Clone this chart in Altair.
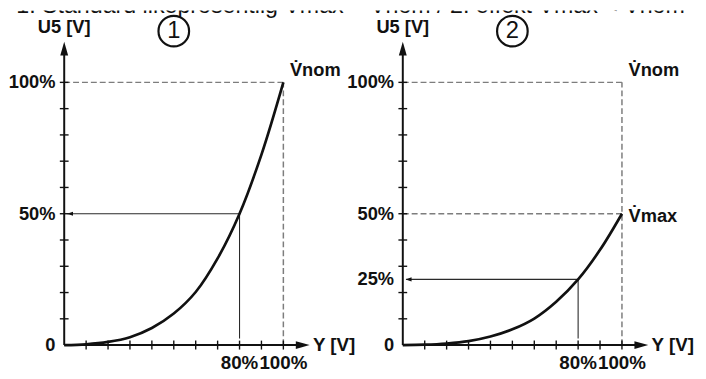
import altair as alt
import pandas as pd

# ---------------- data ----------------
x_pct = [0, 10, 20, 30, 40, 50, 60, 70, 80, 90, 100]
u5_standard = [0, 0.3, 1.2, 3.0, 6.5, 12.0, 20.2, 33.0, 50, 72.5, 100]
u5_effect = [0, 0.15, 0.6, 1.5, 3.25, 6.0, 10.1, 16.5, 25, 36.25, 50]
tick_vals = [10, 20, 30, 40, 50, 60, 70, 80, 90, 100]
x_label_vals = [80, 100]
x_label_text = ["80%", "100%"]
y_label_vals_1 = [0, 50, 100]
y_label_text_1 = ["0", "50%", "100%"]
y_label_vals_2 = [0, 25, 50, 100]
y_label_text_2 = ["0", "25%", "50%", "100%"]
work_x = 80
work_y_1 = 50
work_y_2 = 25
nom_level = 100
max_level_2 = 50
panel_numbers = ["1", "2"]
title_text = "1. Standard likeprosentlig V\u0307max = V\u0307nom / 2. effekt V\u0307max < V\u0307nom"
y_axis_title = "U5 [V]"
x_axis_title = "Y [V]"

# ---------------- layout ----------------
FONT = "Liberation Sans"
H = 371
YD = [-12.0, 127.4]
W1, XD1 = 343, [-25.2, 129.3]
W2, XD2 = 355, [-25.2, 134.7]
PX_PER_X = W1 / (XD1[1] - XD1[0])
TITLE_SHIFT = 3 / PX_PER_X


def panel(width, xdom, curve, work_y, ylab_vals, ylab_text, dashed, annots,
          number, title_x):
    xs = alt.Scale(domain=xdom, nice=False, zero=False)
    ys = alt.Scale(domain=YD, nice=False, zero=False)

    def X(f):
        return alt.X(f, type="quantitative", scale=xs, axis=None)

    def Y(f):
        return alt.Y(f, type="quantitative", scale=ys, axis=None)

    seg = lambda rows: pd.DataFrame(rows, columns=["x0", "x1", "y0", "y1"])

    def rules(df, **kw):
        return alt.Chart(df).mark_rule(**kw).encode(
            x=X("x0"), x2="x1", y=Y("y0"), y2="y1")

    # dashed guide lines
    dash = rules(seg(dashed), strokeDash=[6, 3], color="#7d7d7d", strokeWidth=1.5)

    # working point helper lines
    work = rules(seg([[work_x, 1.5, work_y, work_y],
                      [work_x, work_x, work_y, 2.5]]),
                 color="#2a2a2a", strokeWidth=1.1)
    work_head = alt.Chart(pd.DataFrame({"x": [1.3], "y": [work_y]})).mark_point(
        shape="M0,0L2,-0.7L2,0.7Z", size=36, filled=True, color="#111",
        opacity=1, strokeWidth=0).encode(x=X("x"), y=Y("y"))

    # axes
    axes = rules(seg([[0, 0, 0, 111], [0, 106, 0, 0]]), color="#111", strokeWidth=2)
    yhead = alt.Chart(pd.DataFrame({"x": [0], "y": [115.5]})).mark_point(
        shape="M0,0L-0.57,2L0.57,2Z", size=196, filled=True, color="#111",
        opacity=1, strokeWidth=0).encode(x=X("x"), y=Y("y"))
    xhead = alt.Chart(pd.DataFrame({"x": [112], "y": [0]})).mark_point(
        shape="M0,0L-2,-0.57L-2,0.57Z", size=196, filled=True, color="#111",
        opacity=1, strokeWidth=0).encode(x=X("x"), y=Y("y"))
    yt = rules(seg([[-2.0, 2.0, v, v] for v in tick_vals]), color="#111", strokeWidth=1.4)
    xt = rules(seg([[v, v, -1.7, 1.7] for v in tick_vals]), color="#111", strokeWidth=1.4)

    # curve
    line = alt.Chart(pd.DataFrame({"x": x_pct, "y": curve})).mark_line(
        color="#111", strokeWidth=2.7, interpolate="catmull-rom").encode(
        x=X("x"), y=Y("y"))

    bold = dict(font=FONT, fontWeight="bold", fontSize=18.5, color="#111")
    ylab = alt.Chart(pd.DataFrame({"v": ylab_vals, "t": ylab_text, "x": -4.0})).mark_text(
        align="right", baseline="middle", **bold).encode(x=X("x"), y=Y("v"), text="t")
    xlab = alt.Chart(pd.DataFrame({"v": x_label_vals, "t": x_label_text, "y": -6.8})).mark_text(
        align="center", baseline="middle", **{**bold, "fontSize": 19}).encode(
        x=X("v"), y=Y("y"), text="t")
    ytitle = alt.Chart(pd.DataFrame({"x": [0], "y": [120.9], "t": [y_axis_title]})).mark_text(
        align="center", baseline="middle", **bold).encode(x=X("x"), y=Y("y"), text="t")
    xtitle = alt.Chart(pd.DataFrame({"x": [113.5], "y": [0], "t": [x_axis_title]})).mark_text(
        align="left", baseline="middle", **{**bold, "fontSize": 19}).encode(
        x=X("x"), y=Y("y"), text="t")
    ann = alt.Chart(pd.DataFrame(annots, columns=["x", "y", "t"])).mark_text(
        align="left", baseline="alphabetic", **bold).encode(x=X("x"), y=Y("y"), text="t")

    circ = alt.Chart(pd.DataFrame({"x": [50], "y": [119.5]})).mark_point(
        shape="circle", size=961, filled=False, color="#111", strokeWidth=2.2,
        opacity=1).encode(x=X("x"), y=Y("y"))
    num = alt.Chart(pd.DataFrame({"x": [50], "y": [119.5], "t": [number]})).mark_text(
        align="center", baseline="middle", font=FONT, fontSize=24, color="#111"
    ).encode(x=X("x"), y=Y("y"), text="t")

    title = alt.Chart(pd.DataFrame({"x": [title_x], "y": [126.3], "t": [title_text]})).mark_text(
        align="center", baseline="alphabetic", font=FONT, fontSize=23.5, color="#111",
        clip=True).encode(x=X("x"), y=Y("y"), text="t")

    return alt.layer(dash, work, work_head, axes, yhead, xhead, yt, xt, line,
                     ylab, xlab, ytitle, xtitle, ann, circ, num, title).properties(
        width=width, height=H)


left = panel(
    W1, XD1, u5_standard, work_y_1, y_label_vals_1, y_label_text_1,
    [[0, 100, nom_level, nom_level], [100, 100, 0, nom_level]],
    [[103, 102.3, "V\u0307nom"]], panel_numbers[0], XD1[1] + TITLE_SHIFT)
right = panel(
    W2, XD2, u5_effect, work_y_2, y_label_vals_2, y_label_text_2,
    [[0, 100, nom_level, nom_level], [0, 100, max_level_2, max_level_2],
     [100, 100, 0, nom_level]],
    [[103, 102.3, "V\u0307nom"], [103, 47, "V\u0307max"]], panel_numbers[1],
    XD2[0] + TITLE_SHIFT)

chart = alt.hconcat(left, right, spacing=0, bounds="flush").properties(
    padding=0).configure_view(stroke=None)
chart.save("out.html", embed_options={"renderer": "svg", "actions": False})
